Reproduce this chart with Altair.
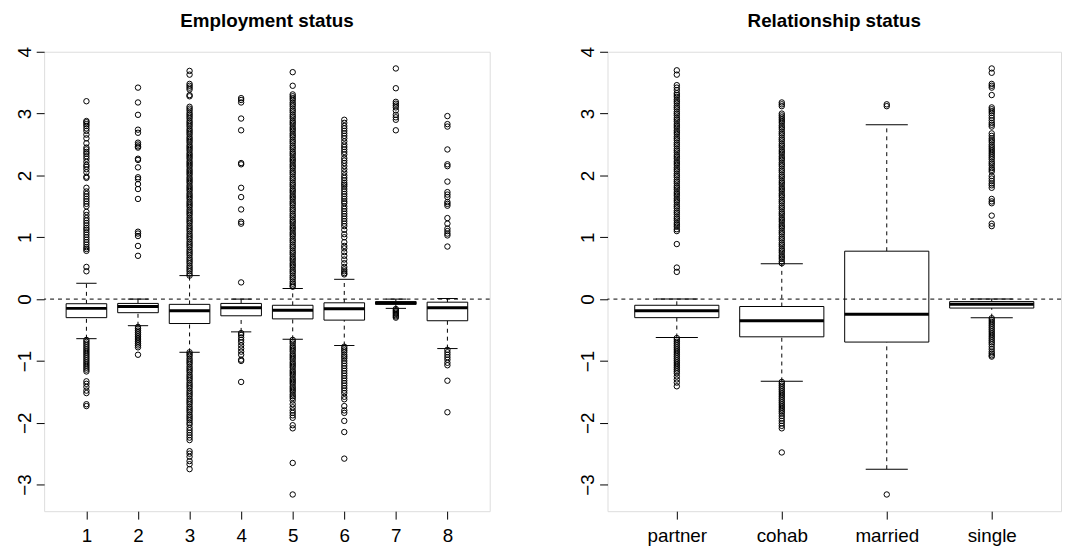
import altair as alt
import pandas as pd

FONT = "Liberation Sans"

# ---------------- Employment status ----------------
emp_groups = ["1", "2", "3", "4", "5", "6", "7", "8"]
emp_low = [-0.64, -0.43, -0.86, -0.53, -0.65, -0.75, -0.15, -0.80]
emp_q1 = [-0.30, -0.22, -0.395, -0.27, -0.32, -0.34, -0.085, -0.35]
emp_med = [-0.15, -0.12, -0.19, -0.14, -0.18, -0.155, -0.065, -0.14]
emp_q3 = [-0.075, -0.07, -0.085, -0.07, -0.10, -0.06, -0.04, -0.05]
emp_high = [0.256, 0.0, 0.38, 0.0, 0.17, 0.32, 0.0, 0.01]

emp1_out = [3.20, 2.88, 2.86, 2.83, 2.80, 2.76, 2.72, 2.66, 2.60, 2.52, 2.45, 2.42, 2.38, 2.35,
            2.31, 2.27, 2.22, 2.17, 2.14, 2.10, 2.05, 1.98, 1.96, 1.80, 1.74, 1.70, 1.66, 1.62,
            1.58, 1.54, 1.50, 1.41, 1.36, 1.31, 1.27, 1.23, 1.19, 1.15, 1.12, 1.08, 1.04, 1.00,
            0.96, 0.92, 0.88, 0.84, 0.81, 0.78, 0.52, 0.45,
            -0.66, -0.69, -0.72, -0.75, -0.78, -0.81, -0.84, -0.87, -0.90, -0.93, -0.96, -0.99,
            -1.02, -1.05, -1.08, -1.11, -1.14, -1.17, -1.33, -1.37, -1.42, -1.48, -1.52, -1.70, -1.73]
emp2_out = [3.42, 3.18, 2.98, 2.74, 2.69, 2.53, 2.50, 2.47, 2.45, 2.27, 2.25, 2.13, 1.97, 1.94,
            1.86, 1.78, 1.62, 1.09, 1.06, 1.02, 0.86, 0.70,
            -0.45, -0.48, -0.51, -0.54, -0.57, -0.60, -0.63, -0.66, -0.69, -0.72, -0.75, -0.78, -0.90]
emp3_out = [3.69, 3.63, 3.48, 3.45, 3.42, 3.39, 3.30, 3.28,
            3.11, 3.08, 3.05, 3.01, 2.98, 2.95, 2.92, 2.88, 2.85, 2.82, 2.79, 2.75, 2.72, 2.69,
            2.66, 2.62, 2.59, 2.56, 2.53, 2.49, 2.46, 2.43, 2.40, 2.36, 2.33, 2.30, 2.27, 2.23,
            2.20, 2.17, 2.14, 2.10, 2.07, 2.04, 2.01, 1.97, 1.94, 1.91, 1.88, 1.84, 1.81, 1.78,
            1.75, 1.71, 1.68, 1.65, 1.62, 1.58, 1.55, 1.52, 1.49, 1.45, 1.42, 1.39, 1.36, 1.32,
            1.29, 1.26, 1.23, 1.19, 1.16, 1.13, 1.10, 1.06, 1.03, 1.00, 0.97, 0.93, 0.90, 0.87,
            0.84, 0.80, 0.77, 0.74, 0.71, 0.67, 0.64, 0.61, 0.58, 0.54, 0.51, 0.48, 0.45, 0.41, 0.38,
            -0.86, -0.89, -0.92, -0.96, -0.99, -1.02, -1.05, -1.09, -1.12, -1.15, -1.18, -1.22,
            -1.25, -1.28, -1.31, -1.35, -1.38, -1.41, -1.44, -1.48, -1.51, -1.54, -1.57, -1.61,
            -1.64, -1.67, -1.70, -1.74, -1.77, -1.80, -1.83, -1.87, -1.90, -1.93, -1.96, -2.00,
            -2.03, -2.08, -2.12, -2.16, -2.20, -2.24, -2.28, -2.46, -2.50, -2.55, -2.62, -2.67, -2.75]
emp4_out = [3.25, 3.22, 3.18, 2.92, 2.73, 2.20, 2.18, 1.80, 1.65, 1.45, 1.25, 1.22, 0.27,
            -0.55, -0.58, -0.62, -0.66, -0.70, -0.75, -0.80, -0.85, -0.90, -0.98, -1.00, -1.34]
emp5_out = [3.67, 3.45,
            3.31, 3.28, 3.25, 3.22, 3.18, 3.15, 3.12, 3.08, 3.05, 3.02, 2.98, 2.95, 2.92, 2.88,
            2.85, 2.82, 2.78, 2.75, 2.72, 2.68, 2.65, 2.62, 2.58, 2.55, 2.52, 2.48, 2.45, 2.42,
            2.38, 2.35, 2.32, 2.28, 2.25, 2.22, 2.18, 2.15, 2.12, 2.08, 2.05, 2.02, 1.98, 1.95,
            1.92, 1.88, 1.85, 1.82, 1.78, 1.75, 1.72, 1.68, 1.65, 1.62, 1.58, 1.55, 1.52, 1.48,
            1.45, 1.42, 1.38, 1.35, 1.32, 1.28, 1.25, 1.22, 1.18, 1.15, 1.12, 1.08, 1.05, 1.02,
            0.98, 0.95, 0.92, 0.88, 0.85, 0.82, 0.78, 0.75, 0.72, 0.68, 0.65, 0.62, 0.58, 0.55,
            0.52, 0.48, 0.45, 0.42, 0.38, 0.35, 0.32, 0.28, 0.25, 0.22, 0.20,
            -0.66, -0.69, -0.72, -0.76, -0.79, -0.82, -0.85, -0.89, -0.92, -0.95, -0.98, -1.02,
            -1.05, -1.08, -1.11, -1.15, -1.18, -1.21, -1.24, -1.28, -1.31, -1.34, -1.37, -1.41,
            -1.44, -1.47, -1.50, -1.54, -1.57, -1.60, -1.64, -1.70, -1.75, -1.80, -1.84, -1.88,
            -1.92, -2.04, -2.09, -2.65, -3.16]
emp6_out = [2.90, 2.85, 2.80, 2.76, 2.72, 2.68, 2.64, 2.60, 2.55, 2.50, 2.46, 2.42, 2.38, 2.34,
            2.28, 2.24, 2.20, 2.15, 2.10, 2.05, 2.00, 1.96, 1.92, 1.88, 1.85, 1.82, 1.78, 1.74,
            1.70, 1.66, 1.62, 1.58, 1.55, 1.50, 1.46, 1.42, 1.38, 1.34, 1.30, 1.26, 1.22, 1.18,
            1.12, 1.05, 1.00, 0.92, 0.86, 0.82, 0.76, 0.70, 0.64, 0.58, 0.52, 0.48, 0.45, 0.42, 0.40,
            -0.77, -0.80, -0.83, -0.86, -0.90, -0.93, -0.96, -1.00, -1.04, -1.08, -1.12, -1.16,
            -1.20, -1.24, -1.28, -1.32, -1.36, -1.40, -1.44, -1.48, -1.52, -1.58, -1.62, -1.73,
            -1.80, -1.84, -1.97, -2.15, -2.58]
emp7_out = [3.73, 3.41, 3.19, 3.16, 3.13, 3.10, 3.05, 2.98, 2.94, 2.90, 2.73,
            -0.16, -0.18, -0.20, -0.22, -0.24, -0.26, -0.28, -0.30]
emp8_out = [2.96, 2.83, 2.79, 2.42, 2.18, 2.15, 1.90, 1.73, 1.69, 1.65, 1.57, 1.54, 1.51, 1.31,
            1.22, 1.14, 1.10, 1.06, 1.03, 0.85,
            -0.82, -0.86, -0.90, -0.94, -0.98, -1.03, -1.07, -1.32, -1.83]

# ---------------- Relationship status ----------------
rel_groups = ["partner", "cohab", "married", "single"]
rel_low = [-0.62, -1.33, -2.75, -0.30]
rel_q1 = [-0.30, -0.61, -0.695, -0.145]
rel_med = [-0.19, -0.35, -0.245, -0.085]
rel_q3 = [-0.10, -0.12, 0.775, -0.04]
rel_high = [0.0, 0.57, 2.82, 0.0]

partner_out = [3.70, 3.63, 3.46, 3.42, 3.38,
               3.33, 3.30, 3.27, 3.23, 3.20, 3.17, 3.13, 3.10, 3.07, 3.03, 3.00, 2.97, 2.93,
               2.90, 2.87, 2.83, 2.80, 2.77, 2.73, 2.70, 2.67, 2.63, 2.60, 2.57, 2.53, 2.50,
               2.47, 2.43, 2.40, 2.37, 2.33, 2.30, 2.27, 2.23, 2.20, 2.17, 2.13, 2.10, 2.07,
               2.03, 2.00, 1.97, 1.93, 1.90, 1.87, 1.83, 1.80, 1.77, 1.73, 1.70, 1.67, 1.63,
               1.60, 1.57, 1.53, 1.50, 1.47, 1.43, 1.40, 1.37, 1.33, 1.30, 1.27, 1.23, 1.20,
               1.17, 1.13, 1.10, 0.89, 0.51, 0.44,
               -0.63, -0.66, -0.69, -0.72, -0.75, -0.78, -0.81, -0.84, -0.87, -0.90, -0.93,
               -0.96, -0.99, -1.02, -1.05, -1.08, -1.11, -1.14, -1.17, -1.20, -1.25, -1.30,
               -1.35, -1.41]
cohab_out = [3.18, 3.15, 3.12, 3.00, 2.97, 2.94, 2.91,
             2.88, 2.85, 2.81, 2.78, 2.75, 2.71, 2.68, 2.65, 2.61, 2.58, 2.55, 2.51, 2.48,
             2.45, 2.41, 2.38, 2.35, 2.31, 2.28, 2.25, 2.21, 2.18, 2.15, 2.11, 2.08, 2.05,
             2.01, 1.98, 1.95, 1.91, 1.88, 1.85, 1.81, 1.78, 1.75, 1.71, 1.68, 1.65, 1.61,
             1.58, 1.55, 1.51, 1.48, 1.45, 1.41, 1.38, 1.35, 1.31, 1.28, 1.25, 1.21, 1.18,
             1.15, 1.11, 1.08, 1.05, 1.01, 0.98, 0.95, 0.91, 0.88, 0.85, 0.81, 0.78, 0.75,
             0.71, 0.68, 0.65, 0.61, 0.58,
             -1.34, -1.37, -1.40, -1.43, -1.46, -1.49, -1.52, -1.55, -1.58, -1.61, -1.64,
             -1.67, -1.70, -1.73, -1.76, -1.79, -1.82, -1.85, -1.89, -1.93, -1.97, -2.01,
             -2.05, -2.09, -2.48]
married_out = [3.15, 3.12, -3.16]
single_out = [3.73, 3.66, 3.48, 3.45, 3.42, 3.30, 3.10, 3.07, 3.04, 3.01, 2.97, 2.93, 2.89,
              2.85, 2.82, 2.79, 2.68, 2.64, 2.60, 2.57, 2.54, 2.50, 2.47, 2.44, 2.41, 2.38,
              2.35, 2.32, 2.29, 2.26, 2.22, 2.19, 2.16, 2.12, 2.09, 2.06, 1.99, 1.95, 1.91,
              1.87, 1.84, 1.80, 1.62, 1.58, 1.55, 1.35, 1.22, 1.18,
              -0.31, -0.34, -0.37, -0.40, -0.43, -0.46, -0.49, -0.52, -0.55, -0.58, -0.61,
              -0.64, -0.67, -0.70, -0.73, -0.77, -0.81, -0.85, -0.88, -0.91, -0.93]

ref_line = [0]
y_ticks = [-3, -2, -1, 0, 1, 2, 3, 4]
y_domain = [-3.43, 4.0]


def panel(groups, low, q1, med, q3, high, outs, title, pad, box_w, width):
    box_df = pd.DataFrame({"g": groups, "low": low, "q1": q1, "med": med, "q3": q3, "high": high})
    rows = [(g, v) for g, vals in zip(groups, outs) for v in vals]
    out_df = pd.DataFrame(rows, columns=["g", "v"])
    ref_df = pd.DataFrame({"z": ref_line})

    x = alt.X("g:N", title=None,
              scale=alt.Scale(type="point", domain=groups, padding=pad),
              axis=alt.Axis(labelAngle=0, tickSize=8, labelPadding=8, labelFontSize=19,
                            labelFont=FONT, labelColor="black", tickColor="black",
                            domain=False, grid=False))
    yscale = alt.Scale(domain=y_domain, nice=False, zero=False)
    yaxis = alt.Axis(values=y_ticks, tickSize=8, labelPadding=6, labelAngle=270,
                     labelAlign="center", labelBaseline="alphabetic", labelFontSize=19,
                     labelFont=FONT, labelColor="black", tickColor="black",
                     domain=False, grid=False, labelOverlap=False, labelFlush=False)

    def Y(f):
        return alt.Y(f, scale=yscale, axis=yaxis, title=None)

    base = alt.Chart(box_df)
    whisk_lo = base.mark_rule(color="black", strokeWidth=1, strokeDash=[4, 4]).encode(
        x=x, y=Y("low:Q"), y2="q1:Q")
    whisk_hi = base.mark_rule(color="black", strokeWidth=1, strokeDash=[4, 4]).encode(
        x=x, y=Y("q3:Q"), y2="high:Q")
    box = base.mark_bar(size=box_w, fill="white", stroke="black", strokeWidth=1).encode(
        x=x, y=Y("q1:Q"), y2="q3:Q")
    medl = base.mark_tick(size=box_w, thickness=3, color="black", opacity=1).encode(
        x=x, y=Y("med:Q"))
    cap_lo = base.mark_tick(size=box_w / 2, thickness=1, color="black", opacity=1).encode(
        x=x, y=Y("low:Q"))
    cap_hi = base.mark_tick(size=box_w / 2, thickness=1, color="black", opacity=1).encode(
        x=x, y=Y("high:Q"))
    pts = alt.Chart(out_df).mark_point(shape="circle", filled=False, size=30, color="black",
                                       strokeWidth=1, opacity=1).encode(x=x, y=Y("v:Q"))
    zero = alt.Chart(ref_df).mark_rule(color="black", strokeWidth=1, strokeDash=[4, 4]).encode(
        y=Y("z:Q"))

    return alt.layer(whisk_lo, whisk_hi, box, medl, cap_lo, cap_hi, pts, zero).properties(
        width=width, height=464,
        title=alt.TitleParams(title, fontSize=19, fontWeight="bold", font=FONT,
                              anchor="middle", color="black", offset=15.5))


p1 = panel(emp_groups, emp_low, emp_q1, emp_med, emp_q3, emp_high,
           [emp1_out, emp2_out, emp3_out, emp4_out, emp5_out, emp6_out, emp7_out, emp8_out],
           "Employment status", 0.82, 41, 450)
p2 = panel(rel_groups, rel_low, rel_q1, rel_med, rel_q3, rel_high,
           [partner_out, cohab_out, married_out, single_out],
           "Relationship status", 0.66, 85, 458)

chart = alt.hconcat(p1, p2, spacing=88).properties(
    padding={"left": 6.5, "top": 0.5, "right": 0, "bottom": 0}
).configure_view(stroke="black", strokeWidth=1).configure(background="white")

chart.save("out.html", embed_options={"renderer": "svg", "actions": False})
